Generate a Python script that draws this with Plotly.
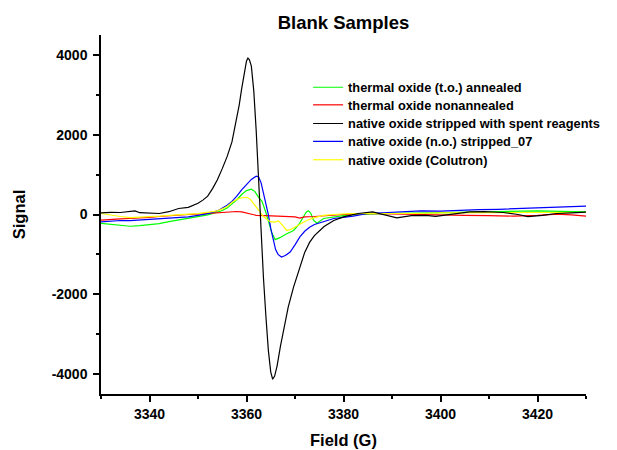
import plotly.graph_objects as go

# ---- data ----
green_x = [3330, 3332, 3334, 3336, 3338, 3340, 3342, 3344, 3346, 3348, 3350, 3352, 3354, 3355, 3356, 3357, 3358, 3359, 3360, 3361, 3361.7, 3362.5, 3363.2, 3364, 3364.5, 3365.2, 3365.9, 3366.9, 3368, 3369.7, 3370.8, 3371.7, 3372.3, 3372.8, 3373.3, 3373.8, 3374.5, 3375.9, 3378, 3380, 3383, 3386, 3390, 3395, 3400, 3405, 3410, 3415, 3420, 3425, 3430]
green_y = [-220, -250, -280, -295, -280, -250, -230, -180, -140, -100, -60, -10, 60, 100, 160, 260, 370, 500, 600, 635, 580, 430, 330, 50, -150, -450, -630, -580, -500, -400, -250, -60, 60, 95, 20, -140, -220, -100, -60, -30, 0, 20, 30, 35, 45, 60, 75, 90, 90, 80, 65]

red_x = [3330, 3332, 3334, 3336, 3338, 3340, 3342, 3344, 3346, 3348, 3350, 3352, 3354, 3356, 3358, 3359, 3360, 3361, 3362, 3364, 3366, 3368, 3370, 3371, 3372, 3374, 3376, 3378, 3380, 3385, 3390, 3395, 3400, 3405, 3410, 3415, 3420, 3424, 3427, 3430]
red_y = [-140, -120, -110, -100, -90, -70, -50, -30, -10, 0, 10, 30, 50, 60, 75, 65, 40, 10, -20, -30, -40, -50, -60, -90, -60, -50, -30, -10, 0, 25, 10, 0, -10, -20, -30, -40, -20, 10, -10, -40]

black_x = [3330, 3332, 3334, 3336, 3337, 3338, 3340, 3342, 3344, 3346, 3348, 3350, 3351, 3352, 3353, 3354, 3355, 3356, 3357, 3358, 3358.5, 3359, 3359.5, 3360, 3360.3, 3360.6, 3361, 3361.5, 3362, 3362.5, 3363, 3363.5, 3364, 3364.5, 3365, 3365.4, 3365.8, 3366.3, 3367, 3367.6, 3368.6, 3369.7, 3371, 3372, 3373, 3374, 3376, 3378, 3380, 3383, 3386, 3388, 3391, 3394, 3397, 3399, 3402, 3406, 3409, 3413, 3416, 3418, 3421, 3424, 3427, 3430]
black_y = [40, 55, 50, 80, 90, 45, 35, 25, 70, 150, 180, 280, 360, 460, 650, 870, 1150, 1450, 1820, 2400, 2750, 3150, 3550, 3850, 3920, 3880, 3720, 3100, 2100, 860, -500, -1600, -2550, -3400, -3950, -4130, -4050, -3800, -3300, -2900, -2320, -1820, -1320, -950, -700, -530, -300, -150, -60, 25, 65, 10, -85, -30, -20, -45, 10, 65, 70, 50, 0, -55, -20, 25, 40, 60]

blue_x = [3330, 3332, 3334, 3336, 3338, 3340, 3342, 3344, 3346, 3348, 3350, 3352, 3354, 3355, 3356, 3357, 3358, 3359, 3360, 3361, 3362, 3362.5, 3363, 3364, 3364.5, 3365, 3365.5, 3366, 3366.5, 3367.2, 3368, 3369, 3370, 3371, 3372, 3373, 3374, 3376, 3378, 3380, 3382, 3385, 3388, 3392, 3396, 3400, 3404, 3408, 3412, 3416, 3420, 3424, 3427, 3430]
blue_y = [-185, -170, -150, -155, -140, -120, -110, -90, -80, -60, -20, 20, 90, 150, 230, 330, 460, 620, 760, 880, 960, 940, 800, 300, 0, -350, -650, -880, -1000, -1065, -1030, -940, -760, -560, -420, -320, -250, -180, -100, -70, -40, 25, 40, 70, 90, 85, 110, 120, 130, 150, 160, 175, 190, 210]

yellow_x = [3330, 3332, 3334, 3336, 3338, 3340, 3342, 3344, 3346, 3348, 3350, 3352, 3354, 3355, 3356, 3357, 3358, 3359, 3360.1, 3360.8, 3361.5, 3362.5, 3363.5, 3364.9, 3365.8, 3366.6, 3367.5, 3368.3, 3369, 3370.1, 3371, 3372.4, 3374, 3375.9, 3378, 3381, 3385, 3390, 3395, 3400, 3405, 3410, 3415, 3420, 3425, 3430]
yellow_y = [25, -20, -50, -80, -70, -60, -40, -20, 0, 10, 20, 50, 90, 140, 200, 300, 380, 420, 430, 380, 280, 110, -50, -180, -190, -160, -280, -400, -380, -310, -240, -150, -80, -20, 0, 20, 25, 20, 25, 40, 50, 45, 50, 55, 50, 50]

names = ["thermal oxide (t.o.) annealed", "thermal oxide nonannealed",
         "native oxide stripped with spent reagents", "native oxide (n.o.) stripped_07",
         "native oxide (Colutron)"]
x_ticks = [3340, 3360, 3380, 3400, 3420]
y_ticks = [-4000, -2000, 0, 2000, 4000]

FONT = "Arial, Liberation Sans, Helvetica, sans-serif"

# (name, x, y, colour, legend id) -- drawn in this order, black on top
series = [
    (names[0], green_x, green_y, "#00ff00", 1),
    (names[1], red_x, red_y, "#ff0000", 2),
    (names[3], blue_x, blue_y, "#0000ff", 4),
    (names[4], yellow_x, yellow_y, "#ffff00", 5),
    (names[2], black_x, black_y, "#000000", 3),
]
legend_rows_y = [0.854, 0.805, 0.753, 0.703, 0.652]

fig = go.Figure()
for name, xs, ys, col, lid in series:
    fig.add_trace(go.Scatter(x=xs, y=ys, mode="lines", name=name,
                             line=dict(color=col, width=1.2),
                             legend="legend" if lid == 1 else f"legend{lid}"))

axis_common = dict(showline=True, linecolor="black", linewidth=1.5,
                   ticks="outside", ticklen=6, tickwidth=1.5, tickcolor="black",
                   showgrid=False, zeroline=False, mirror=False, automargin=False,
                   tickfont=dict(family=FONT, size=14, color="black", weight="bold"))

legend_style = dict(x=0.427, xanchor="left", yanchor="middle",
                    bgcolor="rgba(0,0,0,0)", borderwidth=0,
                    font=dict(family=FONT, size=12.8, color="black", weight="bold"))
legends = {}
for i, yy in enumerate(legend_rows_y, start=1):
    key = "legend" if i == 1 else f"legend{i}"
    legends[key] = dict(y=yy, **legend_style)

fig.update_layout(
    width=609, height=442,
    margin=dict(l=93, r=31, t=27, b=56),
    paper_bgcolor="white", plot_bgcolor="white",
    title=dict(text="Blank Samples", x=0.5, xref="paper", xanchor="center",
               y=1 - 15 / 442, yanchor="middle", yref="container",
               font=dict(family=FONT, size=18.5, color="black", weight="bold")),
    xaxis=dict(range=[3330, 3430], tickvals=x_ticks, ticktext=[str(v) for v in x_ticks],
               minor=dict(dtick=10, tick0=3330, ticks="outside", ticklen=3,
                          tickwidth=1.5, tickcolor="black"),
               ticklabelstandoff=0,
               title=dict(text="Field (G)", standoff=14,
                          font=dict(family=FONT, size=16.5, color="black", weight="bold")),
               **axis_common),
    yaxis=dict(range=[-4500, 4500], tickvals=y_ticks, ticktext=[str(v) for v in y_ticks],
               minor=dict(dtick=1000, tick0=0, ticks="outside", ticklen=3,
                          tickwidth=1.5, tickcolor="black"),
               ticklabelstandoff=3,
               title=dict(text="Signal", standoff=22,
                          font=dict(family=FONT, size=16.5, color="black", weight="bold")),
               **axis_common),
    showlegend=True,
    **legends,
)

fig.write_html("out.html")
